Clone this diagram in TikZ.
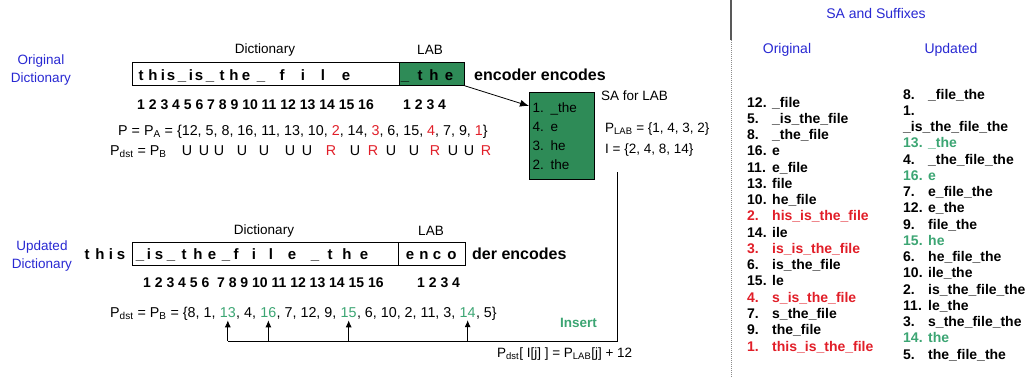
\documentclass[tikz,border=0pt]{standalone}
\usepackage{fontspec}
\setmainfont{Liberation Sans}
\usetikzlibrary{arrows.meta, positioning}

\definecolor{dictblue}{RGB}{40,40,210}
\definecolor{markred}{RGB}{225,30,40}
\definecolor{insgreen}{RGB}{60,165,115}
\definecolor{labgreen}{RGB}{46,139,87}

\tikzset{
  lbl/.style={font=\fontsize{13.5}{16}\selectfont, inner sep=0pt, anchor=base},
  bluelbl/.style={font=\fontsize{13.5}{18}\selectfont, text=dictblue, align=center, inner sep=0pt},
  boxch/.style={font=\fontsize{15}{18}\selectfont\bfseries, inner sep=0pt, anchor=base},
  numrow/.style={font=\fontsize{14}{16}\selectfont\bfseries, inner sep=0pt, anchor=base west},
  prow/.style={font=\fontsize{14.3}{16}\selectfont, inner sep=0pt, anchor=base west},
  sfx/.style={font=\fontsize{14}{16}\selectfont\bfseries, inner sep=0pt, anchor=base west},
  dictbox/.style={draw, thick, minimum height=23pt, inner sep=0pt, anchor=north west},
  upar/.style={-{Latex[length=7pt, width=6pt]}, thick}
}

\begin{document}
\begin{tikzpicture}[x=1pt, y=-1pt]
    \useasboundingbox (0,0) rectangle (1029,380);

    % ==========================================
    % ORIGINAL DICTIONARY (top)
    % ==========================================
    \node[bluelbl] (origlbl) at (41,70) {Original\\Dictionary};
    \node[lbl] (odictlbl) at (265,53) {Dictionary};
    \node[lbl] (olablbl) at (430,54) {LAB};

    % Dictionary and LAB boxes
    \node[dictbox, minimum width=267pt] (odictbox) at (132,62) {};
    \node[dictbox, minimum width=65pt, fill=labgreen] (olabbox) at (399,62) {};

    % Box letters
    \foreach \ch/\px [count=\i] in {t/141, h/153, i/163, s/171, \_/182, i/191, s/199, \_/210,
        t/222, h/234, e/246, \_/261, f/282, i/303, l/323, e/346}
        \node[boxch] (odc\i) at (\px,80) {\ch};
    \foreach \ch/\px [count=\i] in {\_/405, t/420, h/434, e/449}
        \node[boxch] (olc\i) at (\px,80) {\ch};
    \node[boxch, anchor=base west, font=\fontsize{16}{18}\selectfont\bfseries] (oenc) at (474,80) {encoder encodes};

    % Positions
    \node[numrow] (onum) at (137,109) {1 2 3 4 5 6 7 8 9 10 11 12 13 14 15 16};
    \node[numrow] (olabnum) at (403,109) {1 2 3 4};

    % P = P_A and P_dst = P_B
    \node[prow] (pa) at (118,135) {P = P\textsubscript{A} = \{12, 5, 8, 16, 11, 13, 10, \textcolor{markred}{2}, 14, \textcolor{markred}{3}, 6, 15, \textcolor{markred}{4}, 7, 9, \textcolor{markred}{1}\}};
    \node[prow] (pdst) at (110,155) {P\textsubscript{dst} = P\textsubscript{B}};
    \foreach \m/\px/\c [count=\i] in {U/187/black, U/204/black, U/219/black, U/242/black,
        U/264/black, U/290/black, U/307/black, R/331/markred, U/355/black, R/373/markred,
        U/391/black, U/414/black, R/435/markred, U/453/black, U/469/black, R/486/markred}
        \node[prow, anchor=base, text=\c] (ur\i) at (\px,155) {\m};

    % SA for LAB
    \node[draw, fill=labgreen, anchor=north west, minimum width=65pt, minimum height=87pt,
        text width=58pt, inner xsep=3pt, align=left, font=\fontsize{13.5}{19}\selectfont] (sabox) at (529,92)
        {1. \_the\\4. e\\3. he\\2. the};
    \draw[-{Latex[length=9pt, width=7pt]}, thick] (olabbox.south east) -- ([yshift=-14pt]sabox.north west);
    \node[lbl, anchor=base west] (salbl) at (601,100) {SA for LAB};
    \node[lbl, anchor=base west] (plab) at (605,132) {P\textsubscript{LAB} = \{1, 4, 3, 2\}};
    \node[lbl, anchor=base west] (iset) at (605,153) {I = \{2, 4, 8, 14\}};

    % ==========================================
    % UPDATED DICTIONARY (bottom)
    % ==========================================
    \node[bluelbl] (updlbl) at (42,256) {Updated\\Dictionary};
    \node[lbl] (udictlbl) at (264,234) {Dictionary};
    \node[lbl] (ulablbl) at (431,235) {LAB};

    \node[dictbox, minimum width=266pt] (udictbox) at (132,242) {};
    \node[dictbox, minimum width=67pt] (ulabbox) at (398,242) {};

    \foreach \ch/\px [count=\i] in {t/87, h/100, i/111, s/121}
        \node[boxch] (uout\i) at (\px,259) {\ch};
    \foreach \ch/\px [count=\i] in {\_/140, i/149, s/159, \_/171, t/184, h/198, e/212, \_/226,
        f/236, i/254, l/271, e/292, \_/315, t/330, h/347, e/364}
        \node[boxch] (udc\i) at (\px,259) {\ch};
    \foreach \ch/\px [count=\i] in {e/410, n/424, c/437, o/452}
        \node[boxch] (ulc\i) at (\px,259) {\ch};
    \node[boxch, anchor=base west, font=\fontsize{16}{18}\selectfont\bfseries] (uenc) at (472,259) {der encodes};

    \node[numrow] (unum) at (143,287) {1 2 3 4 5 6\ \ 7 8 9 10 11 12 13 14 15 16};
    \node[numrow] (ulabnum) at (417,287) {1 2 3 4};

    % P_dst = P_B, inserted entries in green
    \node[prow] (pb0) at (110,317) {P\textsubscript{dst} = P\textsubscript{B} = \{8, 1,\ \mbox{}};
    \node[prow, text=insgreen] (g13) at (pb0.base east) {13};
    \node[prow] (pb1) at (g13.base east) {, 4,\ \mbox{}};
    \node[prow, text=insgreen] (g16) at (pb1.base east) {16};
    \node[prow] (pb2) at (g16.base east) {, 7, 12, 9,\ \mbox{}};
    \node[prow, text=insgreen] (g15) at (pb2.base east) {15};
    \node[prow] (pb3) at (g15.base east) {, 6, 10, 2, 11, 3,\ \mbox{}};
    \node[prow, text=insgreen] (g14) at (pb3.base east) {14};
    \node[prow] (pb4) at (g14.base east) {, 5\}};

    % Insert path
    \coordinate (instop) at (617,172);
    \coordinate (inscorner) at (617,341);
    \draw[thick] (instop) -- (inscorner) -- (g13.south |- inscorner);
    \foreach \g in {g13, g16, g15, g14}
        \draw[upar] (\g.south |- inscorner) -- ([yshift=-3pt]\g.south);
    \node[lbl, anchor=base west, text=insgreen, font=\fontsize{13.5}{16}\selectfont\bfseries] (inslbl) at (560,327) {Insert};
    \node[lbl, anchor=base west] (insrule) at (497,357) {P\textsubscript{dst}[ I[j] ] = P\textsubscript{LAB}[j] + 12};

    % ==========================================
    % SA AND SUFFIXES (right)
    % ==========================================
    \draw[black!65, line width=1.3pt] (731,0) -- (731,40);
    \draw[black!45, line width=1pt, dash pattern=on 1pt off 1pt] (731,40) -- (731,377);

    \node[lbl, text=dictblue, font=\fontsize{14}{16}\selectfont] (sahead) at (876,19) {SA and Suffixes};
    \node[lbl, text=dictblue, font=\fontsize{14}{16}\selectfont] (orighead) at (787,53) {Original};
    \node[lbl, text=dictblue, font=\fontsize{14}{16}\selectfont] (updhead) at (951,53) {Updated};

    % Original suffixes
    \foreach \n/\s/\c [count=\i] in {12./\_file/black, 5./\_is\_the\_file/black, 8./\_the\_file/black,
        16./e/black, 11./e\_file/black, 13./file/black, 10./he\_file/black,
        2./his\_is\_the\_file/markred, 14./ile/black, 3./is\_is\_the\_file/markred,
        6./is\_the\_file/black, 15./le/black, 4./s\_is\_the\_file/markred,
        7./s\_the\_file/black, 9./the\_file/black, 1./this\_is\_the\_file/markred}
    {
        \node[sfx, text=\c] (on\i) at (747,{107+(\i-1)*16.27}) {\n};
        \node[sfx, text=\c] (os\i) at (772,{107+(\i-1)*16.27}) {\s};
    }

    % Updated suffixes
    \foreach \i/\n/\s/\c in {1/8./\_file\_the/black, 4/13./\_the/insgreen,
        5/4./\_the\_file\_the/black, 6/16./e/insgreen, 7/7./e\_file\_the/black,
        8/12./e\_the/black, 9/9./file\_the/black, 10/15./he/insgreen,
        11/6./he\_file\_the/black, 12/10./ile\_the/black, 13/2./is\_the\_file\_the/black,
        14/11./le\_the/black, 15/3./s\_the\_file\_the/black, 16/14./the/insgreen,
        17/5./the\_file\_the/black}
    {
        \node[sfx, text=\c] (un\i) at (903,{99+(\i-1)*16.25}) {\n};
        \node[sfx, text=\c] (us\i) at (928,{99+(\i-1)*16.25}) {\s};
    }
    \node[sfx] (un2) at (903,115.25) {1.};
    \node[sfx] (us3) at (903,131.5) {\_is\_the\_file\_the};
\end{tikzpicture}
\end{document}
